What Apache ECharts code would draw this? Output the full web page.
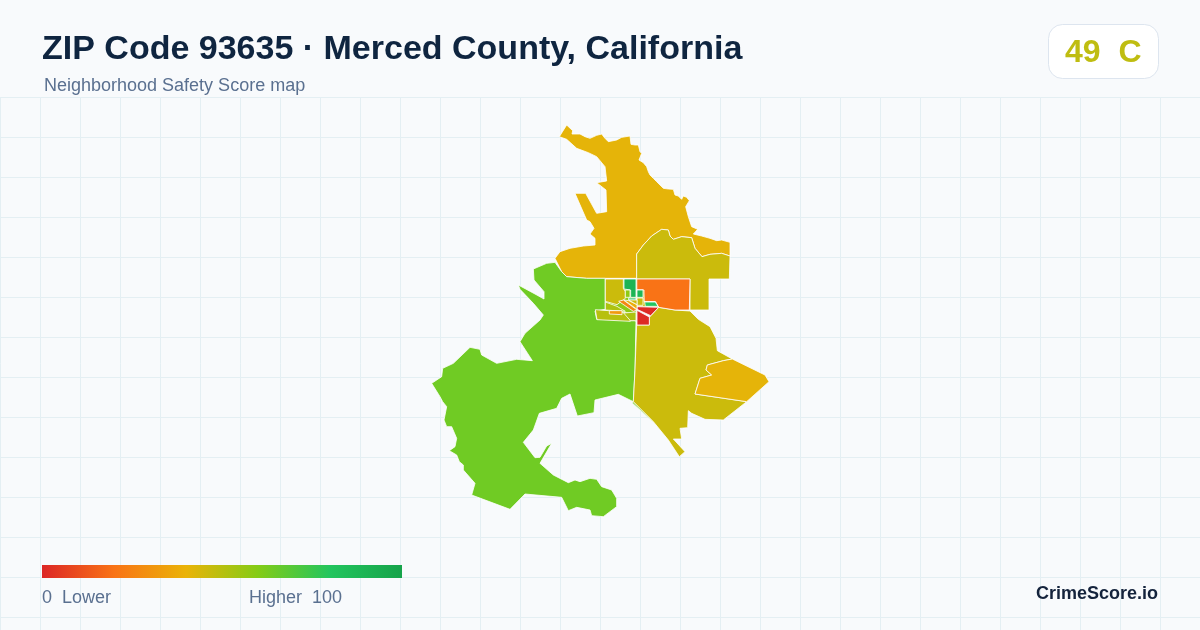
<!DOCTYPE html>
<html>
<head>
<meta charset="utf-8">
<script src="https://cdn.jsdelivr.net/npm/echarts@6/dist/echarts.min.js"></script>
<style>
html, body { margin: 0; padding: 0; background: #f8fafc; }
#chart { width: 1200px; height: 630px; }
</style>
</head>
<body>
<div id="chart"></div>
<script>
var zoneNames = ['north', 'northeast', 'southwest', 'sliver', 'southeast', 'east', 'orange', 'midWest', 'midEast', 'oldtown', 'greenA', 'limeA', 'greenB', 'greenC', 'oliveB', 'greenD', 'redA', 'redB', 'limeB', 'amberB', 'amberA', 'oliveC', 'westOlive', 'westAmber', 'southOlive'];
var zoneScores = [41, 46, 64, 64, 46, 41, 20, 58, 46, 46, 90, 58, 82, 88, 47, 80, 1, 1, 52, 26, 38, 46, 50, 32, 52];

// zone outlines, one list per zone (trace units are 3 to a pixel)
var zoneOutlines = [
    [[418,80],[440,45],[458,62],[456,72],[480,72],[495,80],[510,85],[530,76],[545,72],[555,85],[565,95],[590,90],[605,82],[630,78],[633,103],[645,105],[655,105],[660,125],[665,130],[657,150],[670,158],[680,170],[685,185],[690,195],[700,205],[710,215],[720,225],[730,235],[745,237],[760,238],[765,255],[775,258],[785,268],[790,258],[800,262],[808,272],[797,290],[805,320],[815,350],[833,358],[820,372],[845,378],[870,385],[890,392],[905,390],[930,397],[930,438],[905,430],[870,433],[846,440],[825,415],[815,383],[785,380],[760,388],[750,378],[745,360],[725,358],[695,378],[670,405],[650,432],[650,505],[556,505],[500,505],[440,500],[425,485],[405,445],[420,425],[450,415],[490,408],[525,405],[525,385],[510,372],[522,355],[510,335],[500,330],[465,250],[497,250],[530,310],[560,305],[558,240],[530,218],[560,213],[555,170],[530,140],[505,128],[470,115],[440,88]],
    [[650,432],[670,405],[695,378],[725,358],[745,360],[750,378],[760,388],[785,380],[815,383],[825,415],[846,440],[870,433],[905,430],[930,438],[928,507],[867,507],[867,600],[810,600],[810,507],[650,507]],
    [[556,505],[500,505],[440,500],[425,485],[405,457],[380,460],[340,477],[342,510],[372,545],[372,567],[345,552],[295,525],[300,538],[340,580],[370,615],[360,630],[315,670],[300,695],[337,752],[290,748],[230,760],[185,735],[180,718],[150,712],[100,760],[68,775],[65,800],[35,820],[60,860],[68,875],[80,890],[72,930],[80,950],[95,950],[110,985],[105,1010],[88,1022],[110,1035],[118,1055],[130,1065],[130,1080],[165,1120],[155,1155],[270,1198],[315,1152],[425,1162],[445,1202],[470,1192],[510,1200],[515,1217],[550,1220],[590,1190],[590,1165],[575,1140],[545,1130],[530,1108],[510,1105],[480,1115],[465,1110],[445,1118],[400,1095],[360,1060],[395,1000],[380,1008],[360,1042],[345,1043],[310,997],[340,960],[358,910],[410,895],[425,865],[450,852],[472,918],[522,908],[525,870],[595,853],[640,875],[645,780],[648,632],[628,632],[612,630],[530,628],[525,603],[556,598]],
    [[640,875],[700,935],[695,932],[636,878]],
    [[650,645],[688,645],[688,622],[716,592],[765,600],[810,603],[835,628],[870,650],[888,685],[892,722],[937,747],[910,752],[862,765],[858,780],[875,795],[840,805],[825,852],[980,875],[910,930],[855,928],[815,910],[805,902],[803,953],[780,955],[785,987],[760,987],[795,1025],[778,1040],[745,990],[700,935],[640,875],[645,780]],
    [[937,747],[1035,795],[1047,815],[980,875],[825,852],[840,805],[875,795],[858,780],[862,765],[910,752]],
    [[650,507],[810,507],[808,600],[765,600],[716,592],[706,575],[672,575],[670,540],[650,540]],
    [[556,507],[650,507],[650,634],[556,600]],
    [[650,540],[672,540],[672,575],[706,575],[716,592],[650,590]],
    [[556,507],[610,507],[610,535],[616,545],[616,565],[591,584],[556,574]],
    [[612,507],[648,507],[648,562],[632,562],[632,540],[612,537]],
    [[616,540],[630,540],[630,562],[616,562]],
    [[626,564],[648,564],[648,570],[626,570]],
    [[651,540],[669,540],[669,562],[651,562]],
    [[651,564],[669,564],[669,586],[651,586]],
    [[674,576],[706,576],[714,589],[676,589]],
    [[651,590],[716,592],[692,617],[651,598]],
    [[651,601],[688,621],[688,645],[651,645]],
    [[556,576],[591,589],[616,604],[556,600]],
    [[596,574],[610,570],[651,600],[640,604]],
    [[612,570],[626,572],[651,584],[651,598]],
    [[626,570],[651,570],[651,584]],
    [[526,599],[566,602],[626,609],[631,634],[531,629]],
    [[568,602],[606,602],[606,614],[568,612]],
    [[611,609],[648,606],[648,632],[631,632]]
];

var titleText = 'ZIP Code 93635 · Merced County, California';
var subtitleText = 'Neighborhood Safety Score map';
var gradeText = '49  C';
var rampColors = ['#dc2626', '#f97316', '#eab308', '#84cc16', '#22c55e', '#16a34a'];

var chart = echarts.init(document.getElementById('chart'), null, { width: 1200, height: 630 });

var features = zoneNames.map(function (name, i) {
    return {
        type: 'Feature',
        properties: { name: name },
        geometry: { type: 'Polygon', coordinates: [zoneOutlines[i]] }
    };
});
echarts.registerMap('zip93635', { type: 'FeatureCollection', features: features });

// the map is fitted to the box its outlines take up in the picture
var allPoints = zoneOutlines.reduce(function (a, b) { return a.concat(b); }, []);
var xs = allPoints.map(function (p) { return p[0]; });
var ys = allPoints.map(function (p) { return p[1]; });
var minX = Math.min.apply(null, xs), maxX = Math.max.apply(null, xs);
var minY = Math.min.apply(null, ys), maxY = Math.max.apply(null, ys);

// visualMap clips its own bar to rounded corners, the legend here is square
var rampStops = rampColors.map(function (color, i) {
    return { offset: i / (rampColors.length - 1), color: color };
});

var fontFamily = '"Liberation Sans", Arial, sans-serif';

var option = {
    backgroundColor: '#f8fafc',
    animation: false,
    grid: { left: 0, right: 0, top: 97, bottom: 0 },
    xAxis: {
        type: 'value', min: 0, max: 1200, interval: 40,
        axisLine: { show: false }, axisTick: { show: false }, axisLabel: { show: false },
        splitLine: { show: true, lineStyle: { color: '#e4eff3', width: 1 } }
    },
    yAxis: {
        type: 'value', inverse: true, min: 0, max: 533, interval: 40,
        axisLine: { show: false }, axisTick: { show: false }, axisLabel: { show: false },
        splitLine: { show: true, lineStyle: { color: '#e4eff3', width: 1 } }
    },
    visualMap: {
        type: 'continuous',
        show: false,
        seriesIndex: 0,
        min: 0,
        max: 100,
        inRange: { color: rampColors }
    },
    series: [{
        type: 'map',
        map: 'zip93635',
        projection: {
            project: function (p) { return p; },
            unproject: function (p) { return p; }
        },
        left: 420 + minX / 3,
        top: 110 + minY / 3,
        width: (maxX - minX) / 3,
        height: (maxY - minY) / 3,
        roam: false,
        silent: true,
        selectedMode: false,
        label: { show: false },
        itemStyle: { borderColor: '#ffffff', borderWidth: 0.8 },
        emphasis: { disabled: true },
        data: zoneNames.map(function (name, i) {
            return { name: name, value: zoneScores[i] };
        })
    }],
    graphic: [
        { type: 'text', z: 100, left: 42, top: 33, style: { text: titleText, font: 'bold 34px ' + fontFamily, fill: '#0f2540' } },
        { type: 'text', z: 100, left: 44, top: 77, style: { text: subtitleText, font: '18px ' + fontFamily, fill: '#5a7090' } },
        { type: 'rect', z: 100, left: 1048, top: 24, shape: { width: 110, height: 54, r: 14 }, style: { fill: '#ffffff', stroke: '#dde5ef', lineWidth: 1 } },
        { type: 'text', z: 101, left: 1065, top: 37, style: { text: gradeText, font: 'bold 32px ' + fontFamily, fill: '#bfbd11' } },
        { type: 'rect', z: 100, left: 42, top: 565, shape: { width: 360, height: 13 }, style: { fill: new echarts.graphic.LinearGradient(0, 0, 1, 0, rampStops) } },
        { type: 'text', z: 100, left: 42, top: 589, style: { text: '0  Lower', font: '18px ' + fontFamily, fill: '#5a7090' } },
        { type: 'text', z: 100, left: 249, top: 589, style: { text: 'Higher  100', font: '18px ' + fontFamily, fill: '#5a7090' } },
        { type: 'text', z: 100, right: 42, top: 585, style: { text: 'CrimeScore.io', font: 'bold 18px ' + fontFamily, fill: '#14233c' } }
    ]
};

chart.setOption(option);
</script>
</body>
</html>
